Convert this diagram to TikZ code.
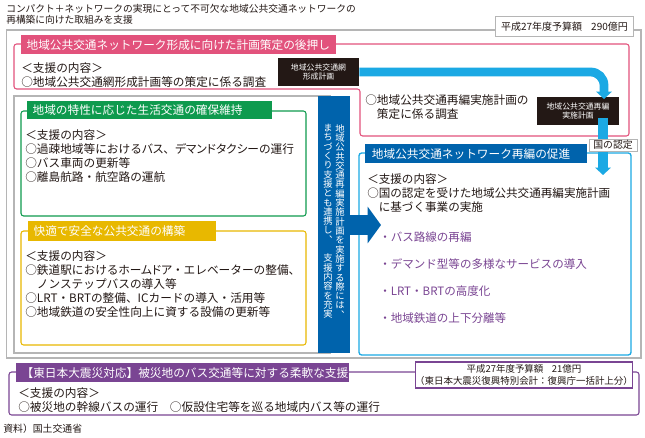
\documentclass[tikz,border=0pt]{standalone}
\usepackage{fontspec}
\setmainfont{Noto Sans CJK JP}
\newfontfamily\palfont[RawFeature=+palt]{Noto Sans CJK JP}
\newfontfamily\vertfont[RawFeature=+vert]{Noto Sans CJK JP}
\usepackage{xcolor}
\usetikzlibrary{arrows.meta}
\definecolor{inkc}{HTML}{231815}
\definecolor{grayc}{HTML}{B5B5B5}
\definecolor{pinkc}{HTML}{E2527C}
\definecolor{greenc}{HTML}{0E9A4E}
\definecolor{yellowc}{HTML}{E8B800}
\definecolor{bluec}{HTML}{0063AC}
\definecolor{cyanc}{HTML}{1BA9E4}
\definecolor{purplec}{HTML}{7A4593}
\newcommand{\tightkana}[1]{{\palfont #1}}
\tikzset{
  basetext/.style = {inner sep=0pt, align=left, text=inkc,
    font=\fontsize{8.75}{10.5}\selectfont},
  bodytext/.style = {basetext, anchor=north west},% frame contents
  itemtext/.style = {basetext, anchor=west, text=purplec,
    font=\fontsize{8.65}{10.5}\selectfont},
  headtext/.style = {basetext, anchor=north west, text=white, inner xsep=4pt,
    inner ysep=0pt, text width=#1, minimum height=14.25pt},
  smalltext/.style = {inner sep=0pt, align=center, text=inkc,
    font=\fontsize{7.1}{8.4}\selectfont},
  darkbox/.style = {inner sep=0pt, align=center, text=white, fill=inkc,
    font=\fontsize{5.9}{7}\selectfont, minimum height=21pt},
  frame/.style = {rounded corners=2pt, line width=.8pt, fill=white},
  vertline/.style = {inner sep=0pt, anchor=north, align=center, text=white,
    font=\vertfont\fontsize{7}{6.98}\selectfont},
  cyanarrow/.style = {cyanc, line width=6.6pt,
    -{Triangle[width=11.5pt,length=5.5pt]}}
}
\begin{document}
\begin{tikzpicture}[x=.75pt,y=-.75pt]
\useasboundingbox (0,0) rectangle (645,438);

\node [smalltext, align=left, anchor=north west,
  font=\fontsize{7.3}{8.6}\selectfont] (title) at (6,4)
  {コンパクト＋ネットワークの実現にとって不可欠な地域公共交通ネットワークの\\再構築に向けた取組みを支援};

% main budget
\draw [grayc, line width=1.1pt] (6.5,30) rectangle (641,358);
\node [smalltext, draw=grayc, fill=white, line width=.8pt, minimum width=103pt,
  minimum height=14.5pt, font=\fontsize{7.5}{8.6}\selectfont] (budget) at (564.5,26.5)
  {平成27年度予算額\hspace{.9em}290億円};

% planning
\draw [pinkc, frame] (14,44) -- (629,44) -- (629,136) -- (360,136) -- (360,89) -- (14,89) -- cycle;
\node [headtext=228pt, fill=pinkc] (plan_h) at (21,35)
  {地域公共交通ネットワーク形成に向けた計画策定の後押し};
\node [bodytext] (plan_t) at (21,62)
  {＜支援の内容＞\\○地域公共交通網形成計画等の策定に係る調査};
\node [bodytext] (plan_r) at (365,94.5)
  {○地域公共交通再編実施計画の\\\hspace{1em}策定に係る調査};
\node [darkbox, minimum width=60.75pt] (net_plan) at (318.5,72)
  {地域公共交通網\\形成計画};
\node [darkbox, minimum width=61.5pt] (re_plan) at (578,111)
  {地域公共交通再編\\実施計画};

% left block
\draw [grayc, line width=1pt, fill=white] (14,96) rectangle (330,353);
\draw [greenc, frame] (21,111) rectangle (306,216);
\node [headtext=175.75pt, fill=greenc, minimum height=13.5pt] (life_h) at (27,101)
  {地域の特性に応じた生活交通の確保維持};
\node [bodytext] (life_t) at (25,129)
  {＜支援の内容＞\\○過疎地域等における\tightkana{バス}、\tightkana{デマンドタクシー}の運行\\○バス車両の更新等\\○離島航路・航空路の運航};
\draw [yellowc, frame] (21,231) rectangle (306,345);
\node [headtext=133pt, fill=yellowc, minimum height=15pt] (safe_h) at (28,221)
  {快適で安全な公共交通の構築};
\node [bodytext] (safe_t) at (25,250.5)
  {＜支援の内容＞\\○鉄道駅における\tightkana{ホームドア}・エレベーターの整備、\\\hspace{1em}ノンステップバスの導入等\\○LRT・BRTの整備、ICカードの導入・活用等\\○地域鉄道の安全性向上に資する設備の更新等};

% blue bar
\fill [bluec] (318,96) rectangle (350,353);
\coordinate (bar_r) at (350,225);
\coordinate (bar_tip) at (381,225);
\node [vertline] (bar_a) at (340,124)
  {地\\域\\公\\共\\交\\通\\再\\編\\実\\施\\計\\画\\を\\実\\施\\す\\る\\際\\に\\は\\、};
\node [vertline] (bar_b) at (328,124)
  {ま\\ち\\づ\\く\\り\\支\\援\\と\\も\\連\\携\\し\\、\\\mbox{}\\支\\援\\内\\容\\を\\充\\実};

% network block
\draw [cyanc, frame, line width=1pt] (359,153) rectangle (631,355);
\node [headtext=158.5pt, fill=bluec, inner xsep=4pt] (net_h) at (365,144)
  {\hspace{1pt}地域公共交通ネットワーク再編の促進};
\node [bodytext, font=\fontsize{8.68}{10.5}\selectfont] (net_t) at (367,174)
  {＜支援の内容＞\\○国の認定を受けた地域公共交通再編実施計画\\\hspace{1em}に基づく事業の実施};
\node [itemtext] (item_a) at (379,237) {・バス路線の再編};
\node [itemtext] (item_b) at (379,264) {・デマンド型等の多様なサービスの導入};
\node [itemtext] (item_c) at (379,291) {・LRT・BRTの高度化};
\node [itemtext] (item_d) at (379,318) {・地域鉄道の上下分離等};

\draw [bluec, line width=15pt, -{Triangle[width=27pt,length=10pt]}] (bar_r) -- (bar_tip);

% connectors
\coordinate (re_in) at (604,99);
\coordinate (re_out) at (603,118);
\coordinate (re_end) at (603,175);
\draw [cyanarrow, rounded corners=10pt] (net_plan.east) -| (re_in);
\draw [cyanarrow, line width=7pt] (re_out) -- (re_end);
\node [smalltext, draw=grayc, fill=white, line width=.7pt, minimum width=36pt,
  minimum height=9pt, font=\fontsize{7.4}{8.6}\selectfont] (nintei) at (613,145) {国の認定};

% disaster
\draw [purplec, frame] (9,372) rectangle (639,415);
\node [headtext=241.5pt, fill=purplec] (quake_h) at (16,363)
  {【東日本大震災対応】被災地のバス交通等に対する柔軟な支援};
\node [bodytext] (quake_t) at (18,387)
  {＜支援の内容＞\\○被災地の幹線バスの運行\hspace{1em}○仮設住宅等を巡る地域内バス等の運行};
\node [smalltext, draw=purplec, fill=white, line width=.9pt, minimum width=162pt,
  minimum height=19.5pt] (quake_b) at (524,375)
  {平成27年度予算額\hspace{.9em}21億円\\（東日本大震災復興特別会計：復興庁一括計上分）};

\node [smalltext, anchor=west, font=\fontsize{7.4}{8}\selectfont] (source) at (3,429)
  {資料）国土交通省};
\end{tikzpicture}
\end{document}
